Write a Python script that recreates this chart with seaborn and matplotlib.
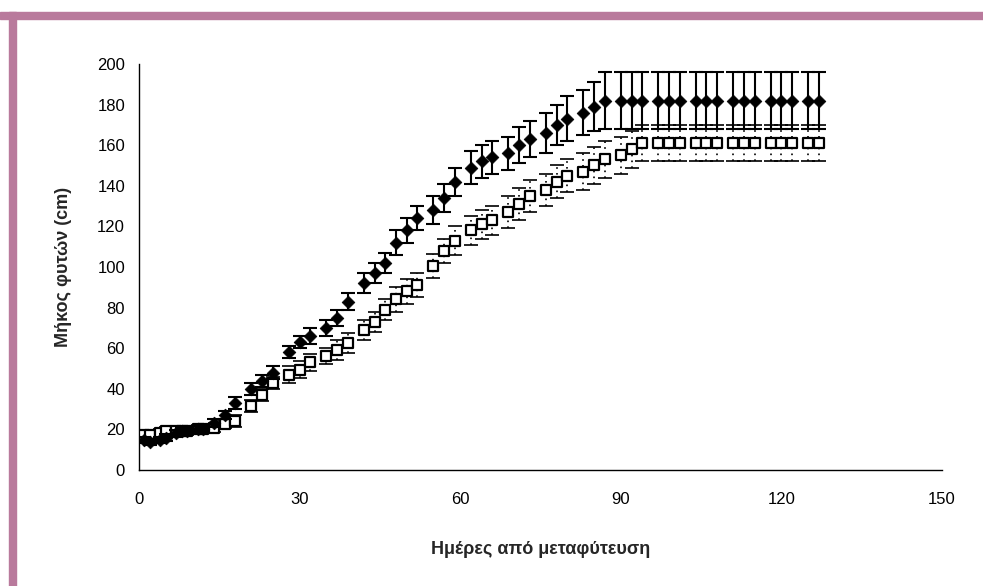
import matplotlib
matplotlib.use("Agg")
import matplotlib.pyplot as plt
from matplotlib.patches import Rectangle
import seaborn as sns
import pandas as pd

# days after transplanting
days = [1, 2, 4, 5, 7, 8, 9, 11, 12,
        14, 16, 18, 21, 23, 25, 28, 30, 32, 35, 37, 39,
        42, 44, 46, 48, 50, 52, 55, 57, 59, 62, 64, 66,
        69, 71, 73, 76, 78, 80, 83, 85, 87,
        90, 92, 94, 97, 99, 101, 104, 106, 108,
        111, 113, 115, 118, 120, 122, 125, 127]

# filled diamonds (solid error bars)
height_a = [15, 14, 15, 16, 18, 19, 19, 20, 20,
            23, 27, 33, 40, 44, 48, 58, 63, 66, 70, 75, 83,
            92, 97, 102, 112, 118, 124, 128, 134, 142, 149, 152, 154,
            156, 160, 163, 166, 170, 173, 176, 179, 182,
            182, 182, 182, 182, 182, 182, 182, 182, 182,
            182, 182, 182, 182, 182, 182, 182, 182]
err_a = [1.5, 1.5, 1.5, 1.5, 1.5, 1.5, 1.5, 1.5, 1.5,
         2, 2, 3, 3, 3, 3, 3, 3, 4, 4, 4, 4,
         5, 5, 5, 6, 6, 6, 7, 7, 7, 8, 8, 8,
         8, 9, 9, 10, 10, 11, 11, 12, 14,
         14, 14, 14, 14, 14, 14, 14, 14, 14,
         14, 14, 14, 14, 14, 14, 14, 14]

# open squares (dotted error bars)
height_b = [17, 17, 18, 19, 19, 19, 19, 20, 20,
            20.5, 22.5, 24, 31.5, 37, 43, 47, 49.5, 53, 56, 59, 62.5,
            69, 73, 79, 84, 88, 91, 100.5, 108, 113, 118, 121, 123,
            127, 131, 135, 138, 142, 145, 147, 150, 153,
            155, 158, 161, 161, 161, 161, 161, 161, 161,
            161, 161, 161, 161, 161, 161, 161, 161]
err_b = [2, 2, 2, 2, 2, 2, 2, 2, 2,
         2, 2, 3, 3, 3, 3, 4, 4, 4, 4, 5, 5,
         5, 5, 5, 6, 6, 6, 6, 6, 7, 7, 7, 7,
         8, 8, 8, 8, 8, 8, 9, 9, 9,
         9, 9, 9, 9, 9, 9, 9, 9, 9,
         9, 9, 9, 9, 9, 9, 9, 9]

df = pd.DataFrame({"day": days, "a": height_a, "ea": err_a,
                   "b": height_b, "eb": err_b})

sns.set_style("white")
plt.rcParams['font.family'] = ['Liberation Sans', 'DejaVu Sans']

fig = plt.figure(figsize=(9.83, 5.86), dpi=100)
ax = fig.add_axes([139/983, 116/586, 803/983, 406/586])

# square series with dotted bars
eb = ax.errorbar(df["day"], df["b"], yerr=df["eb"], fmt="none", ecolor="black",
                 elinewidth=1.2, capsize=5, capthick=1.2, zorder=2)
for c in eb[2]:
    c.set_linestyle((0, (1, 2.5)))
sns.scatterplot(data=df, x="day", y="b", marker="s", s=55, facecolor="white",
                edgecolor="black", linewidth=1.6, ax=ax, zorder=3)

# diamond series with solid bars
ax.errorbar(df["day"], df["a"], yerr=df["ea"], fmt="none", ecolor="black",
            elinewidth=1.5, capsize=5, capthick=1.5, zorder=4)
sns.scatterplot(data=df, x="day", y="a", marker="D", s=42, color="black",
                edgecolor="black", linewidth=0.5, ax=ax, zorder=5)

ax.set_xlim(0, 150)
ax.set_ylim(0, 200)
ax.set_xticks(range(0, 151, 30))
ax.set_yticks(range(0, 201, 20))
ax.tick_params(axis="both", labelsize=12, length=4, width=1, direction="out",
               colors="black", pad=6)
ax.tick_params(axis="x", pad=12)
sns.despine(ax=ax)
for s in ["left", "bottom"]:
    ax.spines[s].set_color("black")
    ax.spines[s].set_linewidth(1)

ax.set_xlabel("Ημέρες από μεταφύτευση", fontsize=13, fontweight="bold", labelpad=24)
ax.set_ylabel("Μήκος φυτών (cm)", fontsize=13, fontweight="bold", labelpad=18)

# pink frame on the top and left edges
fig.patches.append(Rectangle((0/983, 1 - 19/586), 1.0, 7/586,
                             transform=fig.transFigure, color="#b97a9c", zorder=0))
fig.patches.append(Rectangle((9/983, 0), 7/983, 1 - 12/586,
                             transform=fig.transFigure, color="#b97a9c", zorder=0))

fig.savefig("out.png", dpi=100)
